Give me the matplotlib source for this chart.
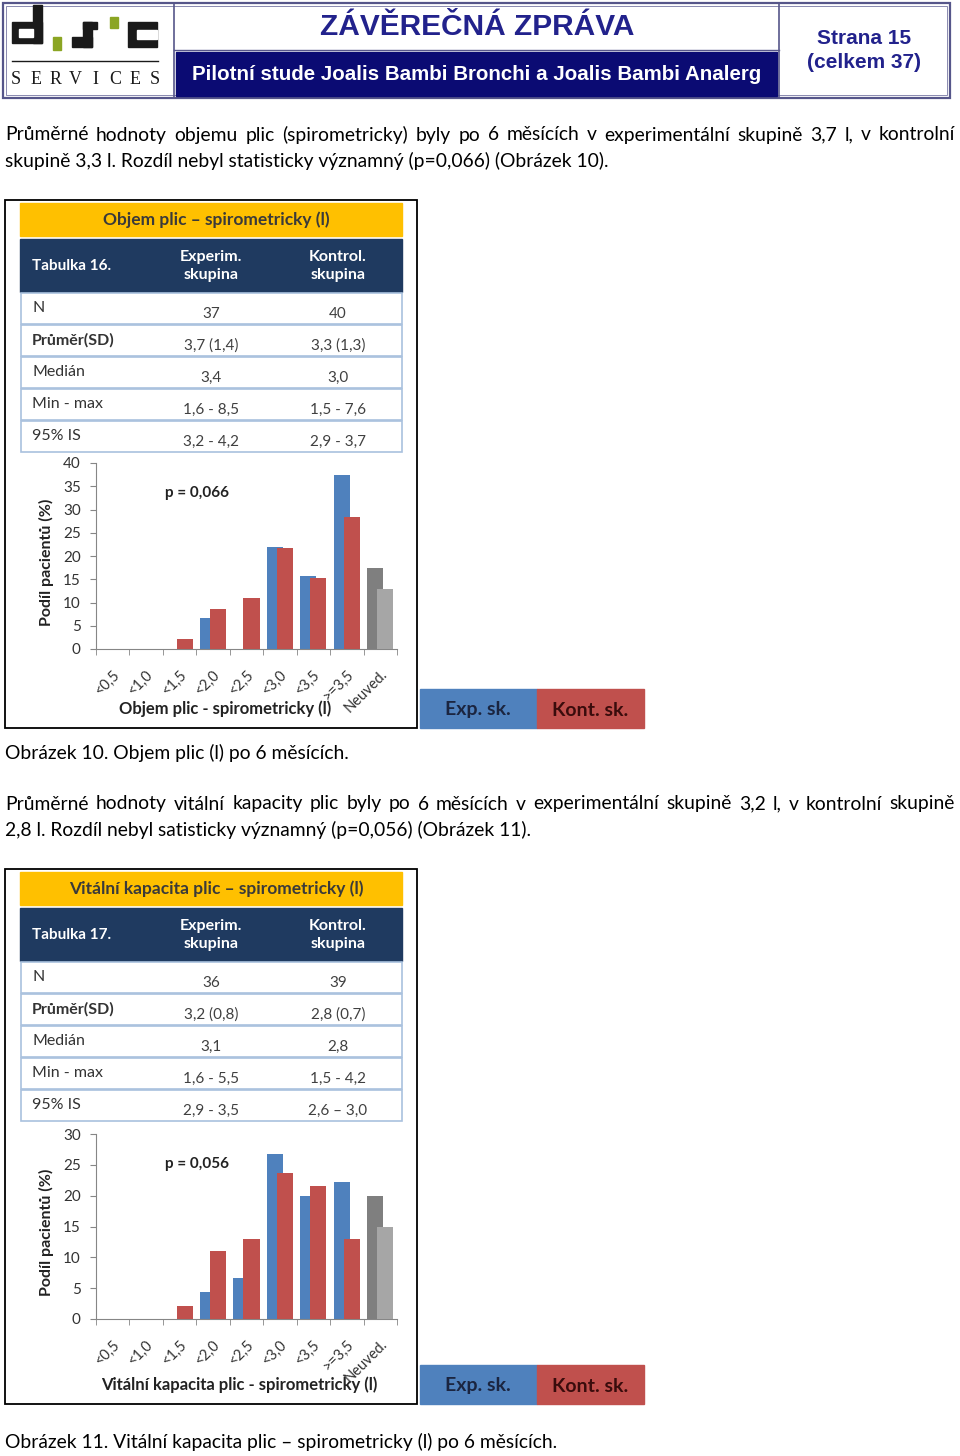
import matplotlib
matplotlib.use("Agg")
import matplotlib.pyplot as plt
from matplotlib.patches import Rectangle
import numpy as np

plt.rcParams['font.family'] = ['Lato', 'DejaVu Sans']

W, H = 960, 1456

# data
categories = ["<0,5", "<1,0", "<1,5", "<2,0", "<2,5", "<3,0", "<3,5", ">=3,5", "Neuved."]
objem_exp = [0, 0, 0, 6.7, 0, 22.0, 15.6, 37.5, 17.5]
objem_kont = [0, 0, 2.2, 8.7, 10.9, 21.7, 15.2, 28.3, 13.0]
vital_exp = [0, 0, 0, 4.4, 6.7, 26.7, 20.0, 22.2, 20.0]
vital_kont = [0, 0, 2.1, 11.0, 13.0, 23.6, 21.5, 13.0, 15.0]

row_labels = ["N", "Průměr(SD)", "Medián", "Min - max", "95% IS"]
objem_tab_exp = ["37", "3,7 (1,4)", "3,4", "1,6 - 8,5", "3,2 - 4,2"]
objem_tab_kont = ["40", "3,3 (1,3)", "3,0", "1,5 - 7,6", "2,9 - 3,7"]
vital_tab_exp = ["36", "3,2 (0,8)", "3,1", "1,6 - 5,5", "2,9 - 3,5"]
vital_tab_kont = ["39", "2,8 (0,7)", "2,8", "1,5 - 4,2", "2,6 – 3,0"]

p1 = ["Průměrné hodnoty objemu plic (spirometricky) byly po 6 měsících v experimentální skupině 3,7 l, v kontrolní",
      "skupině 3,3 l. Rozdíl nebyl statisticky významný (p=0,066) (Obrázek 10)."]
p2 = ["Průměrné hodnoty vitální kapacity plic byly po 6 měsících v experimentální skupině 3,2 l, v kontrolní skupině",
      "2,8 l. Rozdíl nebyl satisticky významný (p=0,056) (Obrázek 11)."]

BLUE, RED = '#4F81BD', '#C0504D'
GRAY1, GRAY2 = '#7F7F7F', '#A6A6A6'
NAVY_T = '#1F3A60'
FS = 13.85

fig = plt.figure(figsize=(W / 100, H / 100), dpi=100)
bg = fig.add_axes([0, 0, 1, 1])
bg.set_xlim(0, W)
bg.set_ylim(H, 0)
bg.axis('off')
r = fig.canvas.get_renderer()


def rect(x0, y0, x1, y1, **kw):
    bg.add_patch(Rectangle((x0, y0), x1 - x0, y1 - y0, **kw))


def width_of(t):
    return t.get_window_extent(r).width


def justify(y, line, x0=5, x1=955, fs=FS, color='black'):
    words = line.split(' ')
    ts = [bg.text(0, y, w_, fontsize=fs, va='center', color=color) for w_ in words]
    ws = [width_of(t) for t in ts]
    gap = (x1 - x0 - sum(ws)) / (len(words) - 1)
    x = x0
    for t, w_ in zip(ts, ws):
        t.set_x(x)
        x += w_ + gap


# ---------------- header ----------------
rect(3, 3, 950, 98, fill=False, ec='#56568a', lw=1.6)
rect(6, 6, 947, 95, fill=False, ec='#8a8ab0', lw=0.7)
bg.plot([174, 174], [3, 98], color='#56568a', lw=1.2)
bg.plot([779, 779], [3, 98], color='#56568a', lw=1.2)
rect(176, 52, 777, 96, color='#0B0B73')
bg.plot([174, 779], [50, 50], color='#56568a', lw=1)

# logo
k = '#1a1a1a'
g = '#8BA523'
rect(33, 5, 42, 43, color=k)
rect(12, 22, 42, 43, color=k)
rect(19, 29, 33, 37, color='white')
rect(53, 37, 61, 50, color=g)
rect(83, 22, 97, 29, color=k)
rect(83, 22, 92, 47, color=k)
rect(72, 37, 92, 47, color=k)
rect(110, 17, 118, 28, color=g)
rect(128, 22, 157, 47, color=k)
rect(137, 30, 157, 39, color='white')
bg.plot([12, 158], [61, 61], color=k, lw=1)
for xx, ch in zip(np.linspace(16, 155, 8), "SERVICES"):
    bg.text(xx, 79, ch, fontsize=13, ha='center', va='center', family='Liberation Serif', color=k)

bg.text(477, 27, "ZÁVĚREČNÁ ZPRÁVA", fontsize=21.5, fontweight='bold', ha='center', va='center',
        color='#22228C', family='Liberation Sans')
bg.text(477, 74, "Pilotní stude Joalis Bambi Bronchi a Joalis Bambi Analerg", fontsize=14.8,
        fontweight='bold', ha='center', va='center', color='white', family='Liberation Sans')
bg.text(864, 39, "Strana 15", fontsize=15, fontweight='bold', ha='center', va='center',
        color='#22228C', family='Liberation Sans')
bg.text(864, 63, "(celkem 37)", fontsize=15, fontweight='bold', ha='center', va='center',
        color='#22228C', family='Liberation Sans')

# ---------------- text ----------------
justify(135, p1[0])
bg.text(5, 161, p1[1], fontsize=FS, va='center')
bg.text(5, 753, "Obrázek 10. Objem plic (l) po 6 měsících.", fontsize=FS, va='center')
justify(804, p2[0])
bg.text(5, 830, p2[1], fontsize=FS, va='center')
bg.text(5, 1442, "Obrázek 11. Vitální kapacita plic – spirometricky (l) po 6 měsících.", fontsize=FS,
        va='center')


# ---------------- figure panels ----------------
def panel(top, bottom, title, tab_no, t_exp, t_kont, exp, kont, ymax, ax_top, ax_bot,
          pval, xlab, xlab_x):
    rect(5, top, 417, bottom, fill=False, ec='black', lw=1.3)
    # title bar
    rect(20, top + 3, 402, top + 36, color='#FFC000')
    bg.text(216, top + 20, title, fontsize=12.5, fontweight='bold', ha='center', va='center',
            color='#3a3a3a')
    # header
    rect(20, top + 39, 402, top + 92, color=NAVY_T)
    bg.text(32, top + 66, tab_no, fontsize=11, fontweight='bold', color='white', va='center')
    bg.text(211, top + 66, "Experim.\nskupina", fontsize=11.5, fontweight='bold', color='white',
            ha='center', va='center', linespacing=1.45)
    bg.text(338, top + 66, "Kontrol.\nskupina", fontsize=11.5, fontweight='bold', color='white',
            ha='center', va='center', linespacing=1.45)
    for i, lab in enumerate(row_labels):
        y0 = top + 93 + i * 32
        rect(21, y0, 402, y0 + 31, fc='white', ec='#A9C1DE', lw=1.2)
        bg.text(32, y0 + 15, lab, fontsize=11.5, fontweight='bold' if i == 1 else 'normal',
                color='#333333', va='center')
        bg.text(211, y0 + 21, t_exp[i], fontsize=11, color='#404040', ha='center', va='center')
        bg.text(338, y0 + 21, t_kont[i], fontsize=11, color='#404040', ha='center', va='center')

    ax = fig.add_axes([96 / W, 1 - ax_bot / H, 301 / W, (ax_bot - ax_top) / H])
    ax.patch.set_alpha(0)
    x = np.arange(len(categories))
    ce = [BLUE] * 8 + [GRAY1]
    ck = [RED] * 8 + [GRAY2]
    ax.bar(x - 0.15, exp, 0.48, color=ce, zorder=2)
    ax.bar(x + 0.15, kont, 0.48, color=ck, zorder=3)
    ax.set_xlim(-0.5, len(categories) - 0.5)
    ax.set_ylim(0, ymax)
    ax.set_yticks(np.arange(0, ymax + 1, 5))
    ax.set_xticks(x)
    ax.set_xticklabels(categories, rotation=45, ha='right', rotation_mode='anchor', fontsize=10.5,
                       color='#333333')
    ax.set_xticks(np.arange(-0.5, len(categories), 1), minor=True)
    ax.tick_params(axis='x', which='major', length=0, pad=13)
    ax.tick_params(axis='x', which='minor', length=4, color='#868686')
    ax.tick_params(axis='y', length=4, color='#868686', labelsize=11, labelcolor='#333333', pad=7)
    for s in ['top', 'right']:
        ax.spines[s].set_visible(False)
    for s in ['left', 'bottom']:
        ax.spines[s].set_color('#868686')
    ax.text(0.23, 0.84, pval, transform=ax.transAxes, fontsize=11, fontweight='bold',
            color='#222222', va='center')
    bg.text(46, (ax_top + ax_bot) / 2 + 6, "Podíl pacientů (%)", rotation=90, fontsize=11.5,
            fontweight='bold', ha='center', va='center', color='#222222')
    bg.text(xlab_x, bottom - 19, xlab, fontsize=12, fontweight='bold', ha='center', va='center',
            color='#222222')
    # legend
    rect(420, bottom - 39, 537, bottom, color=BLUE)
    rect(537, bottom - 39, 644, bottom, color=RED)
    bg.text(478, bottom - 18, "Exp. sk.", fontsize=14, fontweight='bold', ha='center', va='center',
            color='#1b2540')
    bg.text(590, bottom - 18, "Kont. sk.", fontsize=14, fontweight='bold', ha='center', va='center',
            color='#3a0c0c')
    return ax


panel(200, 728, "Objem plic – spirometricky (l)", "Tabulka 16.", objem_tab_exp, objem_tab_kont,
      objem_exp, objem_kont, 40, 463, 649, "p = 0,066", "Objem plic - spirometricky (l)", 225)
panel(869, 1404, "Vitální kapacita plic – spirometricky (l)", "Tabulka 17.", vital_tab_exp,
      vital_tab_kont, vital_exp, vital_kont, 30, 1134, 1319, "p = 0,056",
      "Vitální kapacita plic - spirometricky (l)", 239)

fig.savefig("out.png", dpi=100)
